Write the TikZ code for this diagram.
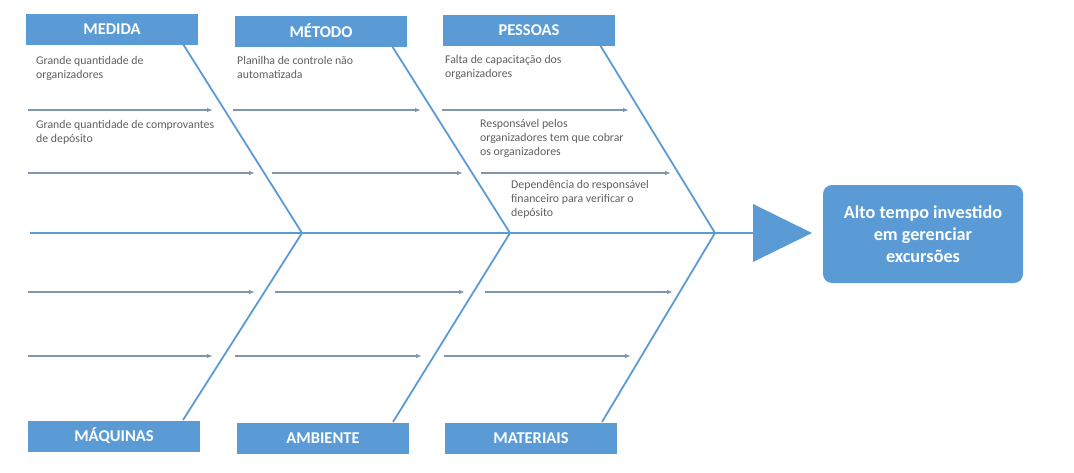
\documentclass[tikz,border=0pt]{standalone}
\usepackage{fontspec}
\setmainfont{Carlito}
\usetikzlibrary{arrows.meta,shapes.geometric}
\definecolor{boxblue}{RGB}{91,155,213}
\definecolor{causegray}{RGB}{128,150,172}
\definecolor{notegray}{RGB}{95,95,95}

\begin{document}
\begin{tikzpicture}[x=1pt,y=-1pt,
    catbox/.style={fill=boxblue, text=white, font=\fontsize{16.5}{18}\selectfont\bfseries,
        minimum width=172pt, minimum height=31pt, inner sep=0pt},
    bone/.style={draw=boxblue, line width=1.8pt},
    spine/.style={draw=boxblue, line width=2.2pt},
    cause/.style={draw=causegray, line width=1.3pt, -{Latex[length=6pt,width=4.5pt]}},
    note/.style={anchor=north west, inner sep=0pt, align=left, text=notegray,
        font=\fontsize{11.8}{14}\selectfont},
    effectbox/.style={fill=boxblue, text=white, rounded corners=9pt, align=center,
        font=\fontsize{18.2}{22}\selectfont\bfseries, minimum width=200pt, minimum height=98pt},
    headtri/.style={isosceles triangle, isosceles triangle stretches, fill=boxblue,
        minimum width=58pt, minimum height=59pt, inner sep=0pt, outer sep=0pt, anchor=west}]
    \useasboundingbox (0,0) rectangle (1074,472);
    % constants
    \def\rowA{110}
    \def\rowB{173}
    \def\rowC{292}
    \def\rowD{356}
    \def\spineY{233}
    % category boxes
    \node [catbox] (medida) at (112,29) {MEDIDA};
    \node [catbox] (metodo) at (321,31) {MÉTODO};
    \node [catbox] (pessoas) at (529,30) {PESSOAS};
    \node [catbox] (maquinas) at (114,436) {MÁQUINAS};
    \node [catbox] (ambiente) at (323,438) {AMBIENTE};
    \node [catbox] (materiais) at (531,438) {MATERIAIS};
    % head and effect
    \node [headtri] (head) at (753,\spineY) {};
    \node [effectbox] (effect) at (923,234) {Alto tempo investido\\em gerenciar\\excursões};
    % spine joints
    \coordinate (tail) at (30,\spineY);
    \coordinate (jA) at (302,\spineY);
    \coordinate (jB) at (510,\spineY);
    \coordinate (jC) at (715,\spineY);
    % bone ends on the boxes
    \coordinate (bMedida) at (183,44);
    \coordinate (bMetodo) at (392,46);
    \coordinate (bPessoas) at (600,45);
    \coordinate (bMaquinas) at (183,420);
    \coordinate (bAmbiente) at (393,422);
    \coordinate (bMateriais) at (602,422);
    % cause arrows, upper half
    \coordinate (a1s) at (28,\rowA);  \coordinate (a1e) at (213,\rowA);
    \coordinate (a2s) at (233,\rowA); \coordinate (a2e) at (421,\rowA);
    \coordinate (a3s) at (442,\rowA); \coordinate (a3e) at (629,\rowA);
    \coordinate (b1s) at (28,\rowB);  \coordinate (b1e) at (255,\rowB);
    \coordinate (b2s) at (272,\rowB); \coordinate (b2e) at (463,\rowB);
    \coordinate (b3s) at (481,\rowB); \coordinate (b3e) at (671,\rowB);
    % cause arrows, lower half
    \coordinate (c1s) at (28,\rowC);  \coordinate (c1e) at (255,\rowC);
    \coordinate (c2s) at (275,\rowC); \coordinate (c2e) at (465,\rowC);
    \coordinate (c3s) at (485,\rowC); \coordinate (c3e) at (673,\rowC);
    \coordinate (d1s) at (28,\rowD);  \coordinate (d1e) at (213,\rowD);
    \coordinate (d2s) at (235,\rowD); \coordinate (d2e) at (422,\rowD);
    \coordinate (d3s) at (444,\rowD); \coordinate (d3e) at (631,\rowD);
    % cause texts
    \node [note] (nMedidaA) at (36,56) {Grande quantidade de\\organizadores};
    \node [note] (nMedidaB) at (36,120) {Grande quantidade de comprovantes\\de depósito};
    \node [note] (nMetodoA) at (237,56) {Planilha de controle não\\automatizada};
    \node [note] (nPessoasA) at (445,55) {Falta de capacitação dos\\organizadores};
    \node [note] (nPessoasB) at (480,119) {Responsável pelos\\organizadores tem que cobrar\\os organizadores};
    \node [note] (nPessoasC) at (511,180) {Dependência do responsável\\financeiro para verificar o\\depósito};

    % spine
    \draw [spine] (tail) -- (head.west);
    % bones
    \draw [bone] (bMedida) -- (jA) -- (bMaquinas);
    \draw [bone] (bMetodo) -- (jB) -- (bAmbiente);
    \draw [bone] (bPessoas) -- (jC) -- (bMateriais);
    % arrows
    \draw [cause] (a1s) -- (a1e);
    \draw [cause] (a2s) -- (a2e);
    \draw [cause] (a3s) -- (a3e);
    \draw [cause] (b1s) -- (b1e);
    \draw [cause] (b2s) -- (b2e);
    \draw [cause] (b3s) -- (b3e);
    \draw [cause] (c1s) -- (c1e);
    \draw [cause] (c2s) -- (c2e);
    \draw [cause] (c3s) -- (c3e);
    \draw [cause] (d1s) -- (d1e);
    \draw [cause] (d2s) -- (d2e);
    \draw [cause] (d3s) -- (d3e);
\end{tikzpicture}
\end{document}
